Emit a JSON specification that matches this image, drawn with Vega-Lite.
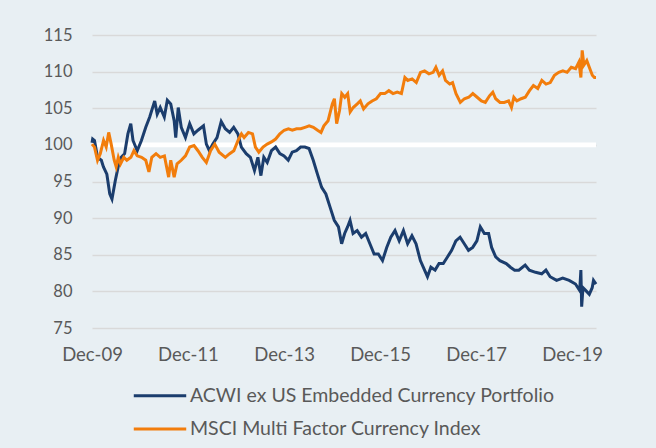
{
  "$schema": "https://vega.github.io/schema/vega-lite/v6.json",
  "width": 504,
  "height": 293,
  "autosize": {"type": "none"},
  "padding": {"left": 92, "top": 35, "right": 60, "bottom": 120},
  "background": "#e8eff3",
  "config": {
    "view": {"stroke": null},
    "font": "Lato",
    "axis": {"labelFont": "Lato", "labelColor": "#595959", "title": null, "domain": false, "ticks": false},
    "axisY": {"labelOverlap": false, "grid": true, "gridColor": "#d9d9d9", "gridWidth": 1.5, "labelFontSize": 16.5, "labelPadding": 20},
    "legend": {"labelFont": "Lato", "labelColor": "#595959"}
  },
  "datasets": {
    "acwi": [
      {"date":"2009-12-31","value":100.3},{"date":"2010-01-05","value":100.8},{"date":"2010-01-19","value":100.6},{"date":"2010-02-11","value":98.3},{"date":"2010-03-12","value":97.9},{"date":"2010-03-28","value":97.0},{"date":"2010-04-23","value":96.0},{"date":"2010-05-15","value":93.3},{"date":"2010-06-01","value":92.6},{"date":"2010-06-26","value":95.1},{"date":"2010-07-18","value":97.0},{"date":"2010-08-10","value":98.3},{"date":"2010-09-05","value":98.8},{"date":"2010-09-30","value":101.5},{"date":"2010-10-22","value":102.9},{"date":"2010-11-08","value":100.6},{"date":"2010-12-10","value":99.2},{"date":"2011-01-11","value":100.6},{"date":"2011-02-13","value":102.4},{"date":"2011-03-15","value":103.8},{"date":"2011-04-22","value":106.0},{"date":"2011-05-11","value":104.2},{"date":"2011-06-03","value":105.1},{"date":"2011-07-04","value":103.8},{"date":"2011-07-27","value":106.1},{"date":"2011-08-22","value":105.6},{"date":"2011-09-17","value":103.3},{"date":"2011-09-29","value":101.0},{"date":"2011-10-18","value":105.1},{"date":"2011-11-10","value":102.4},{"date":"2011-12-12","value":101.0},{"date":"2012-01-13","value":102.9},{"date":"2012-02-14","value":101.5},{"date":"2012-03-16","value":102.0},{"date":"2012-04-27","value":102.6},{"date":"2012-05-19","value":100.1},{"date":"2012-06-11","value":99.2},{"date":"2012-07-06","value":100.1},{"date":"2012-08-08","value":101.0},{"date":"2012-09-09","value":103.2},{"date":"2012-10-10","value":102.2},{"date":"2012-11-12","value":101.7},{"date":"2012-12-13","value":102.4},{"date":"2013-01-14","value":101.5},{"date":"2013-02-09","value":99.7},{"date":"2013-03-18","value":98.8},{"date":"2013-04-19","value":98.3},{"date":"2013-05-20","value":96.5},{"date":"2013-06-15","value":98.3},{"date":"2013-07-08","value":95.8},{"date":"2013-07-30","value":98.3},{"date":"2013-08-25","value":97.6},{"date":"2013-09-26","value":99.2},{"date":"2013-10-28","value":99.7},{"date":"2013-11-29","value":98.8},{"date":"2013-12-31","value":98.5},{"date":"2014-02-01","value":97.9},{"date":"2014-03-03","value":99.0},{"date":"2014-04-04","value":99.2},{"date":"2014-05-06","value":99.7},{"date":"2014-06-07","value":99.7},{"date":"2014-07-09","value":99.5},{"date":"2014-08-10","value":97.9},{"date":"2014-09-11","value":96.0},{"date":"2014-10-13","value":94.2},{"date":"2014-11-14","value":93.3},{"date":"2014-12-16","value":91.5},{"date":"2015-01-17","value":89.7},{"date":"2015-02-18","value":88.8},{"date":"2015-03-14","value":86.5},{"date":"2015-04-06","value":87.9},{"date":"2015-04-28","value":88.8},{"date":"2015-05-17","value":89.7},{"date":"2015-06-09","value":87.9},{"date":"2015-07-10","value":88.3},{"date":"2015-08-12","value":87.4},{"date":"2015-09-13","value":87.9},{"date":"2015-10-15","value":86.5},{"date":"2015-11-16","value":85.1},{"date":"2015-12-18","value":85.1},{"date":"2016-01-19","value":84.2},{"date":"2016-02-20","value":86.0},{"date":"2016-03-22","value":87.4},{"date":"2016-04-23","value":88.3},{"date":"2016-05-25","value":86.9},{"date":"2016-06-26","value":88.3},{"date":"2016-07-28","value":86.5},{"date":"2016-08-30","value":87.6},{"date":"2016-09-30","value":86.5},{"date":"2016-11-02","value":84.2},{"date":"2016-12-04","value":82.9},{"date":"2016-12-26","value":82.0},{"date":"2017-01-21","value":83.3},{"date":"2017-02-22","value":82.9},{"date":"2017-03-24","value":83.8},{"date":"2017-04-25","value":83.8},{"date":"2017-05-27","value":84.7},{"date":"2017-06-28","value":85.6},{"date":"2017-07-30","value":86.9},{"date":"2017-08-31","value":87.4},{"date":"2017-10-02","value":86.5},{"date":"2017-11-03","value":85.6},{"date":"2017-12-05","value":86.0},{"date":"2018-01-06","value":86.9},{"date":"2018-02-01","value":88.8},{"date":"2018-03-04","value":87.9},{"date":"2018-04-05","value":87.9},{"date":"2018-04-28","value":86.0},{"date":"2018-05-29","value":84.7},{"date":"2018-06-30","value":84.2},{"date":"2018-08-17","value":83.8},{"date":"2018-09-18","value":83.3},{"date":"2018-10-20","value":82.9},{"date":"2018-11-21","value":82.9},{"date":"2019-01-08","value":83.6},{"date":"2019-02-09","value":82.9},{"date":"2019-03-28","value":82.6},{"date":"2019-05-14","value":82.4},{"date":"2019-06-15","value":82.9},{"date":"2019-07-17","value":82.0},{"date":"2019-09-04","value":81.5},{"date":"2019-10-21","value":81.8},{"date":"2019-12-09","value":81.5},{"date":"2020-01-26","value":81.0},{"date":"2020-02-27","value":80.1},{"date":"2020-03-07","value":82.9},{"date":"2020-03-13","value":77.9},{"date":"2020-03-23","value":80.5},{"date":"2020-04-14","value":80.1},{"date":"2020-05-10","value":79.6},{"date":"2020-06-01","value":80.5},{"date":"2020-06-11","value":81.5},{"date":"2020-06-30","value":81.0}
    ],
    "msci": [
      {"date":"2009-12-31","value":100.1},{"date":"2010-01-19","value":99.7},{"date":"2010-02-11","value":97.9},{"date":"2010-03-04","value":98.8},{"date":"2010-03-29","value":100.6},{"date":"2010-04-18","value":99.7},{"date":"2010-05-07","value":101.7},{"date":"2010-05-26","value":100.1},{"date":"2010-06-18","value":97.9},{"date":"2010-07-03","value":97.0},{"date":"2010-07-19","value":98.3},{"date":"2010-08-05","value":97.4},{"date":"2010-08-30","value":98.3},{"date":"2010-09-22","value":97.9},{"date":"2010-10-23","value":98.3},{"date":"2010-11-15","value":99.2},{"date":"2010-12-10","value":98.5},{"date":"2011-01-12","value":98.3},{"date":"2011-02-13","value":97.9},{"date":"2011-03-09","value":96.3},{"date":"2011-03-31","value":98.3},{"date":"2011-05-02","value":98.8},{"date":"2011-06-03","value":98.3},{"date":"2011-07-05","value":98.5},{"date":"2011-08-06","value":95.6},{"date":"2011-08-22","value":97.9},{"date":"2011-09-17","value":95.6},{"date":"2011-10-09","value":97.4},{"date":"2011-11-10","value":97.9},{"date":"2011-12-12","value":98.5},{"date":"2012-01-13","value":99.7},{"date":"2012-02-15","value":99.9},{"date":"2012-03-16","value":99.2},{"date":"2012-04-18","value":98.3},{"date":"2012-05-19","value":97.6},{"date":"2012-06-20","value":99.2},{"date":"2012-07-22","value":100.1},{"date":"2012-08-24","value":99.0},{"date":"2012-10-10","value":98.3},{"date":"2012-11-12","value":98.8},{"date":"2012-12-14","value":99.2},{"date":"2013-01-15","value":100.6},{"date":"2013-02-10","value":101.5},{"date":"2013-03-02","value":101.0},{"date":"2013-04-04","value":101.7},{"date":"2013-05-05","value":101.5},{"date":"2013-05-27","value":99.7},{"date":"2013-06-22","value":99.0},{"date":"2013-07-24","value":99.7},{"date":"2013-08-25","value":100.1},{"date":"2013-09-26","value":100.4},{"date":"2013-10-28","value":100.8},{"date":"2013-11-29","value":101.5},{"date":"2014-01-01","value":102.0},{"date":"2014-02-02","value":102.2},{"date":"2014-03-04","value":102.0},{"date":"2014-04-05","value":102.2},{"date":"2014-05-07","value":102.2},{"date":"2014-06-08","value":102.4},{"date":"2014-07-10","value":102.6},{"date":"2014-08-11","value":102.4},{"date":"2014-09-12","value":102.0},{"date":"2014-10-08","value":101.7},{"date":"2014-10-30","value":102.6},{"date":"2014-12-01","value":103.3},{"date":"2015-01-02","value":105.6},{"date":"2015-01-18","value":106.3},{"date":"2015-02-04","value":102.9},{"date":"2015-02-26","value":104.7},{"date":"2015-03-15","value":107.0},{"date":"2015-04-07","value":106.5},{"date":"2015-04-29","value":107.0},{"date":"2015-05-18","value":104.5},{"date":"2015-06-10","value":105.1},{"date":"2015-07-11","value":105.6},{"date":"2015-08-03","value":106.0},{"date":"2015-08-28","value":104.9},{"date":"2015-09-30","value":105.6},{"date":"2015-11-01","value":106.0},{"date":"2015-12-03","value":106.3},{"date":"2016-01-04","value":107.0},{"date":"2016-02-05","value":107.0},{"date":"2016-03-07","value":107.4},{"date":"2016-04-08","value":107.0},{"date":"2016-05-10","value":107.2},{"date":"2016-06-11","value":107.0},{"date":"2016-07-07","value":109.2},{"date":"2016-07-29","value":108.8},{"date":"2016-08-31","value":109.0},{"date":"2016-10-02","value":108.5},{"date":"2016-11-03","value":109.9},{"date":"2016-12-04","value":110.1},{"date":"2017-01-06","value":109.7},{"date":"2017-02-07","value":109.9},{"date":"2017-02-28","value":110.6},{"date":"2017-03-25","value":109.5},{"date":"2017-04-20","value":110.1},{"date":"2017-05-12","value":108.8},{"date":"2017-06-13","value":108.3},{"date":"2017-07-05","value":108.5},{"date":"2017-07-31","value":107.0},{"date":"2017-09-02","value":105.8},{"date":"2017-10-03","value":106.3},{"date":"2017-11-05","value":106.5},{"date":"2017-12-06","value":107.0},{"date":"2018-01-08","value":106.5},{"date":"2018-02-09","value":106.0},{"date":"2018-03-11","value":105.8},{"date":"2018-04-12","value":106.7},{"date":"2018-05-07","value":107.2},{"date":"2018-05-29","value":106.3},{"date":"2018-07-01","value":105.8},{"date":"2018-08-02","value":105.8},{"date":"2018-09-04","value":106.0},{"date":"2018-09-26","value":105.1},{"date":"2018-10-14","value":106.5},{"date":"2018-11-06","value":106.0},{"date":"2018-12-08","value":106.3},{"date":"2019-01-09","value":106.5},{"date":"2019-02-10","value":107.4},{"date":"2019-03-12","value":108.1},{"date":"2019-04-14","value":107.7},{"date":"2019-05-15","value":108.8},{"date":"2019-06-16","value":108.3},{"date":"2019-07-18","value":108.5},{"date":"2019-08-19","value":109.5},{"date":"2019-09-21","value":109.9},{"date":"2019-10-22","value":110.1},{"date":"2019-11-23","value":109.9},{"date":"2019-12-25","value":110.6},{"date":"2020-01-27","value":110.4},{"date":"2020-02-21","value":111.3},{"date":"2020-03-07","value":109.2},{"date":"2020-03-17","value":112.9},{"date":"2020-03-30","value":110.9},{"date":"2020-04-21","value":111.5},{"date":"2020-05-10","value":110.6},{"date":"2020-06-02","value":109.5},{"date":"2020-06-18","value":109.2},{"date":"2020-06-30","value":109.2}
    ]
  },
  "layer": [
    {
      "data": {"values": [{"ref": 100}]},
      "mark": {"type": "rule", "color": "#ffffff", "strokeWidth": 4.7},
      "encoding": {
        "y": {"field": "ref", "type": "quantitative",
          "scale": {"domain": [75, 115], "nice": false, "zero": false},
          "axis": {"values": [75, 80, 85, 90, 95, 100, 105, 110, 115], "labelOverlap": false}}
      }
    },
    {
      "data": {"name": "acwi"},
      "mark": {"type": "line", "strokeWidth": 3},
      "encoding": {
        "x": {"field": "date", "type": "temporal",
          "scale": {"type": "utc", "domain": [{"year": 2009, "month": 12, "date": 31, "utc": true}, {"year": 2020, "month": 6, "date": 30, "utc": true}], "nice": false},
          "axis": {"values": [{"year": 2009, "month": 12, "date": 31, "utc": true}, {"year": 2011, "month": 12, "date": 31, "utc": true}, {"year": 2013, "month": 12, "date": 31, "utc": true}, {"year": 2015, "month": 12, "date": 31, "utc": true}, {"year": 2017, "month": 12, "date": 31, "utc": true}, {"year": 2019, "month": 12, "date": 31, "utc": true}], "labelExpr": "utcFormat(datum.value, '%b-%y')", "grid": false, "labelFontSize": 18.5, "labelPadding": 17, "labelFlush": false, "labelOverlap": false}},
        "y": {"field": "value", "type": "quantitative",
          "axis": {"values": [75, 80, 85, 90, 95, 100, 105, 110, 115], "labelOverlap": false}},
        "color": {"datum": "ACWI ex US Embedded Currency Portfolio",
          "scale": {"domain": ["ACWI ex US Embedded Currency Portfolio", "MSCI Multi Factor Currency Index"], "range": ["#1b3d6d", "#f27d0c"]},
          "legend": {"title": null, "orient": "none", "legendX": 40, "legendY": 352.7, "direction": "vertical", "symbolType": "stroke", "symbolSize": 2750, "symbolStrokeWidth": 3, "labelFontSize": 19.5, "labelLimit": 0, "clipHeight": 16, "rowPadding": 13.2, "labelOffset": 2}}
      }
    },
    {
      "data": {"name": "msci"},
      "mark": {"type": "line", "strokeWidth": 3},
      "encoding": {
        "x": {"field": "date", "type": "temporal"},
        "y": {"field": "value", "type": "quantitative",
          "axis": {"values": [75, 80, 85, 90, 95, 100, 105, 110, 115], "labelOverlap": false}},
        "color": {"datum": "MSCI Multi Factor Currency Index"}
      }
    }
  ]
}
